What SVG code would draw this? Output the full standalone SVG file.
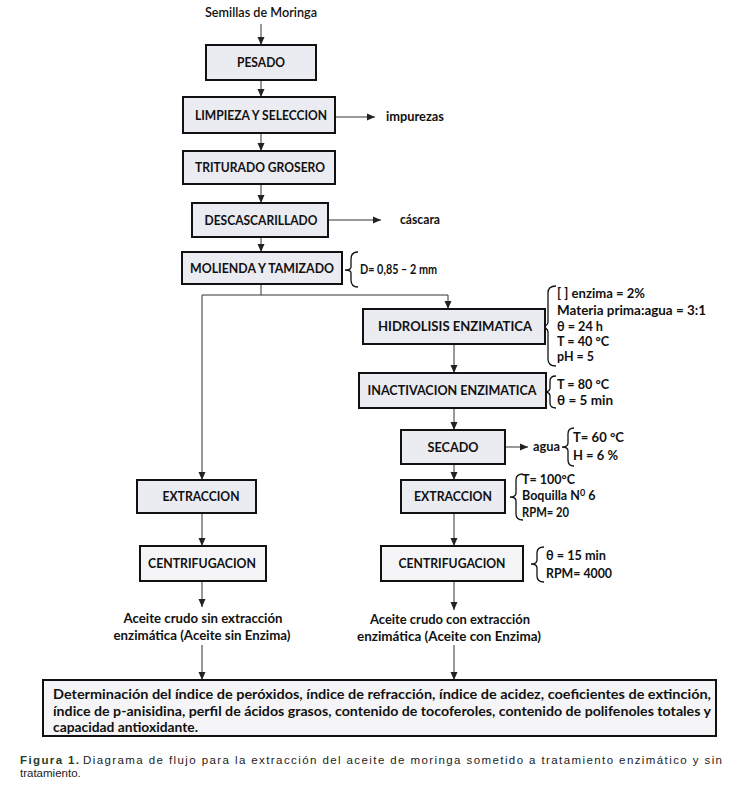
<svg xmlns="http://www.w3.org/2000/svg" width="732" height="791" viewBox="0 0 732 791">
<defs>
<marker id="ah" markerUnits="userSpaceOnUse" markerWidth="8" markerHeight="8" viewBox="0 0 8 8" refX="8" refY="4" orient="auto">
<path d="M0,0.5 L8,4 L0,7.5 Z" fill="#222"/>
</marker>
<style>
.box{fill:#ebebf2;stroke:#111;stroke-width:2}
.box2{fill:#f5f5f7;stroke:#111;stroke-width:2}
.lbl{font-family:Lato,"Open Sans","Liberation Sans",sans-serif;font-weight:bold;font-size:12.5px;fill:#111;text-anchor:middle}
.ann{font-family:Lato,"Open Sans","Liberation Sans",sans-serif;font-weight:bold;font-size:12.5px;fill:#111}
.ln{fill:none;stroke:#333;stroke-width:1}
.br{fill:none;stroke:#111;stroke-width:1.3}
.cap{font-family:"Liberation Sans",Arial,sans-serif;font-size:11.5px;fill:#222}
</style>
</defs>
<rect width="732" height="791" fill="#fff"/>

<g id="connectors">
<path class="ln" d="M261,24 V45" marker-end="url(#ah)"/>
<path class="ln" d="M261,80 V97" marker-end="url(#ah)"/>
<path class="ln" d="M261,133 V151" marker-end="url(#ah)"/>
<path class="ln" d="M261,184 V203" marker-end="url(#ah)"/>
<path class="ln" d="M261,237 V252" marker-end="url(#ah)"/>
<path class="ln" d="M261,284 V295 M202,295 H448"/>
<path class="ln" d="M448,295 V309" marker-end="url(#ah)"/>
<path class="ln" d="M202,295 V480" marker-end="url(#ah)"/>
<path class="ln" d="M335,117 H375" marker-end="url(#ah)"/>
<path class="ln" d="M328,220 H381" marker-end="url(#ah)"/>
<path class="ln" d="M454,344 V373" marker-end="url(#ah)"/>
<path class="ln" d="M454,408 V430" marker-end="url(#ah)"/>
<path class="ln" d="M505,447 H528" marker-end="url(#ah)"/>
<path class="ln" d="M454,464 V480" marker-end="url(#ah)"/>
<path class="ln" d="M454,513 V546" marker-end="url(#ah)"/>
<path class="ln" d="M454,581 V610" marker-end="url(#ah)"/>
<path class="ln" d="M454,645 V680" marker-end="url(#ah)"/>
<path class="ln" d="M202,513 V546" marker-end="url(#ah)"/>
<path class="ln" d="M202,581 V607" marker-end="url(#ah)"/>
<path class="ln" d="M202,645 V680" marker-end="url(#ah)"/>
</g>

<g id="braces">
<path class="br" d="M358,252 Q351,252 351,259 V267 Q351,270 345,270 Q351,270 351,273 V280 Q351,287 358,287"/>
<path class="br" d="M556,286 Q548,286 548,293 V322 Q548,327 539,327 Q548,327 548,332 V359 Q548,366 556,366"/>
<path class="br" d="M556,376 Q550,376 550,381 V388 Q550,392 544,392 Q550,392 550,396 V403 Q550,408 556,408"/>
<path class="br" d="M574,428 Q568,428 568,434 V443 Q568,447 562,447 Q568,447 568,451 V460 Q568,466 574,466"/>
<path class="br" d="M523,474 Q516,474 516,480 V493 Q516,497 510,497 Q516,497 516,501 V514 Q516,520 523,520"/>
<path class="br" d="M544,547 Q537,547 537,553 V560 Q537,564 531,564 Q537,564 537,568 V576 Q537,582 544,582"/>
</g>

<g id="n-semillas"><text class="lbl" x="261" y="17" style="font-weight:600" textLength="112" lengthAdjust="spacingAndGlyphs">Semillas de Moringa</text></g>
<g id="n-pesado"><rect class="box" x="206" y="45" width="110" height="35"/><text class="lbl" x="261" y="67" textLength="48" lengthAdjust="spacingAndGlyphs">PESADO</text></g>
<g id="n-limpieza"><rect class="box" x="183" y="97" width="152" height="36"/><text class="lbl" x="261" y="120" textLength="132" lengthAdjust="spacingAndGlyphs">LIMPIEZA Y SELECCION</text></g>
<g id="n-impurezas"><text class="ann" x="386" y="121" textLength="58" lengthAdjust="spacingAndGlyphs">impurezas</text></g>
<g id="n-triturado"><rect class="box" x="183" y="151" width="152" height="33"/><text class="lbl" x="260" y="172" textLength="130" lengthAdjust="spacingAndGlyphs">TRITURADO GROSERO</text></g>
<g id="n-descascarillado"><rect class="box" x="192" y="203" width="136" height="34"/><text class="lbl" x="261" y="225" textLength="113" lengthAdjust="spacingAndGlyphs">DESCASCARILLADO</text></g>
<g id="n-cascara"><text class="ann" x="400" y="224" textLength="40" lengthAdjust="spacingAndGlyphs">cáscara</text></g>
<g id="n-molienda"><rect class="box" x="182" y="252" width="160" height="32"/><text class="lbl" x="262" y="273" textLength="144" lengthAdjust="spacingAndGlyphs">MOLIENDA Y TAMIZADO</text></g>
<g id="n-d"><text class="ann" x="360" y="274" textLength="77" lengthAdjust="spacingAndGlyphs">D= 0,85 – 2 mm</text></g>

<g id="n-hidrolisis"><rect class="box" x="363" y="309" width="182" height="35"/><text class="lbl" x="455" y="331" textLength="154" lengthAdjust="spacingAndGlyphs">HIDROLISIS ENZIMATICA</text></g>
<g id="n-hidro-params">
<text class="ann" x="557" y="298" textLength="88" lengthAdjust="spacingAndGlyphs">[ ] enzima = 2%</text>
<text class="ann" x="557" y="315" textLength="149" lengthAdjust="spacingAndGlyphs">Materia prima:agua = 3:1</text>
<text class="ann" x="557" y="331" textLength="46" lengthAdjust="spacingAndGlyphs">θ = 24 h</text>
<text class="ann" x="557" y="346" textLength="52" lengthAdjust="spacingAndGlyphs">T = 40 °C</text>
<text class="ann" x="557" y="361" textLength="37" lengthAdjust="spacingAndGlyphs">pH = 5</text>
</g>
<g id="n-inactivacion"><rect class="box" x="359" y="373" width="187" height="35"/><text class="lbl" x="452" y="395" textLength="169" lengthAdjust="spacingAndGlyphs">INACTIVACION ENZIMATICA</text></g>
<g id="n-inact-params">
<text class="ann" x="557" y="389" textLength="52" lengthAdjust="spacingAndGlyphs">T = 80 °C</text>
<text class="ann" x="557" y="405" textLength="56" lengthAdjust="spacingAndGlyphs">θ = 5 min</text>
</g>
<g id="n-secado"><rect class="box" x="401" y="430" width="104" height="34"/><text class="lbl" x="453" y="452" textLength="51" lengthAdjust="spacingAndGlyphs">SECADO</text></g>
<g id="n-agua"><text class="ann" x="533" y="451" textLength="27" lengthAdjust="spacingAndGlyphs">agua</text></g>
<g id="n-secado-params">
<text class="ann" x="573" y="442" textLength="51" lengthAdjust="spacingAndGlyphs">T= 60 °C</text>
<text class="ann" x="573" y="460" textLength="45" lengthAdjust="spacingAndGlyphs">H = 6 %</text>
</g>
<g id="n-extraccion-r"><rect class="box" x="401" y="480" width="104" height="33"/><text class="lbl" x="453" y="501" textLength="78" lengthAdjust="spacingAndGlyphs">EXTRACCION</text></g>
<g id="n-extr-params">
<text class="ann" x="522" y="484" textLength="53" lengthAdjust="spacingAndGlyphs">T= 100°C</text>
<text class="ann" x="522" y="500">Boquilla N<tspan dy="-4" font-size="9">0</tspan><tspan dy="4"> 6</tspan></text>
<text class="ann" x="522" y="517" textLength="47" lengthAdjust="spacingAndGlyphs">RPM= 20</text>
</g>
<g id="n-centrif-r"><rect class="box2" x="381" y="546" width="142" height="35"/><text class="lbl" x="452" y="568" textLength="107" lengthAdjust="spacingAndGlyphs">CENTRIFUGACION</text></g>
<g id="n-centrif-params">
<text class="ann" x="546" y="560" textLength="60" lengthAdjust="spacingAndGlyphs">θ = 15 min</text>
<text class="ann" x="546" y="578" textLength="66" lengthAdjust="spacingAndGlyphs">RPM= 4000</text>
</g>
<g id="n-aceite-con">
<text class="lbl" x="450" y="624" textLength="160" lengthAdjust="spacingAndGlyphs">Aceite crudo con extracción</text>
<text class="lbl" x="449" y="641" textLength="184" lengthAdjust="spacingAndGlyphs">enzimática (Aceite con Enzima)</text>
</g>

<g id="n-extraccion-l"><rect class="box" x="137" y="480" width="119" height="33"/><text class="lbl" x="201" y="501" textLength="77" lengthAdjust="spacingAndGlyphs">EXTRACCION</text></g>
<g id="n-centrif-l"><rect class="box2" x="140" y="546" width="126" height="35"/><text class="lbl" x="202" y="568" textLength="108" lengthAdjust="spacingAndGlyphs">CENTRIFUGACION</text></g>
<g id="n-aceite-sin">
<text class="lbl" x="203" y="623" textLength="159" lengthAdjust="spacingAndGlyphs">Aceite crudo sin extracción</text>
<text class="lbl" x="202" y="640" textLength="177" lengthAdjust="spacingAndGlyphs">enzimática (Aceite sin Enzima)</text>
</g>

<g id="n-determinacion">
<rect class="box2" x="43" y="680" width="673" height="56"/>
<text class="ann" x="53" y="699" textLength="658" lengthAdjust="spacingAndGlyphs">Determinación del índice de peróxidos, índice de refracción, índice de acidez, coeficientes de extinción,</text>
<text class="ann" x="53" y="716" textLength="658" lengthAdjust="spacingAndGlyphs">índice de p-anisidina, perfil de ácidos grasos, contenido de tocoferoles, contenido de polifenoles totales y</text>
<text class="ann" x="53" y="732" textLength="145" lengthAdjust="spacingAndGlyphs">capacidad antioxidante.</text>
</g>

<g id="caption">
<text class="cap" x="20" y="764" font-weight="bold" style="fill:#1f3f1f" textLength="59" lengthAdjust="spacing">Figura 1.</text>
<text class="cap" x="83" y="764" textLength="639" lengthAdjust="spacing">Diagrama de flujo para la extracción del aceite de moringa sometido a tratamiento enzimático y sin</text>
<text class="cap" x="20" y="777">tratamiento.</text>
</g>
</svg>
